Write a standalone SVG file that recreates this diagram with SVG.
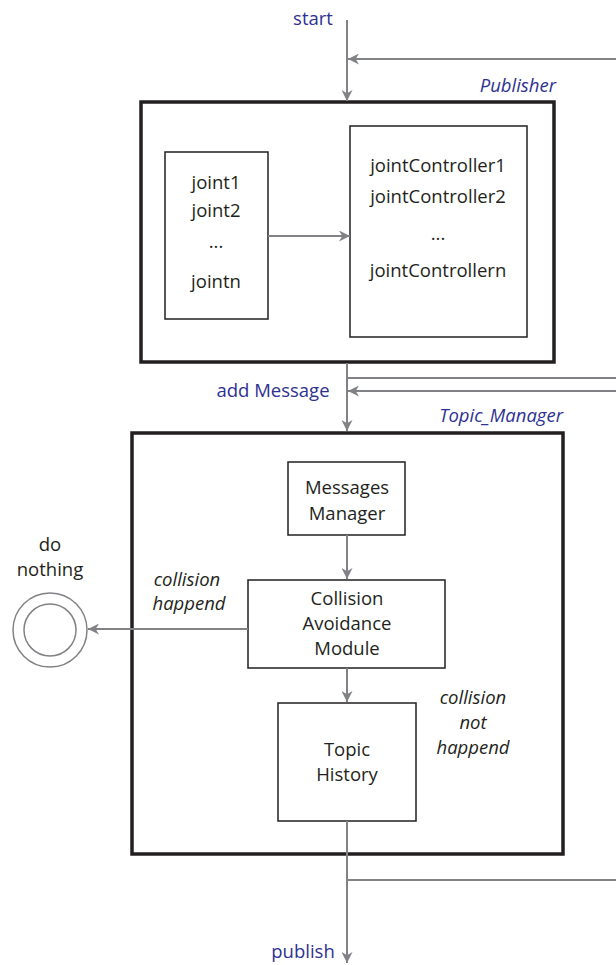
<svg xmlns="http://www.w3.org/2000/svg" width="616" height="965" viewBox="0 0 616 965">
<defs>
<style>
.t{font-family:"Open Sans","Noto Sans",sans-serif;font-size:18.5px;fill:#231f20;text-anchor:middle}
.i{font-style:italic}
.b{fill:#2e3192}
.box{fill:#fff;stroke:#231f20;stroke-width:1.5}
.big{fill:none;stroke:#231f20;stroke-width:3.5}
.c{fill:none;stroke:#808285;stroke-width:2}
</style>
<marker id="ah" viewBox="0 0 10 10" refX="10" refY="5" markerWidth="11" markerHeight="11" markerUnits="userSpaceOnUse" orient="auto">
<path d="M0,0 L10,5 L0,10 L3,5 Z" fill="#808285"/>
</marker>
</defs>
<g id="publisher">
<rect class="big" x="141" y="102" width="413" height="260"/>
<text class="t i b" x="556" y="92" style="text-anchor:end">Publisher</text>
</g>
<g id="joints">
<rect class="box" x="165" y="152" width="103" height="167"/>
<text class="t" x="216" y="189">joint1</text>
<text class="t" x="216" y="217">joint2</text>
<text class="t" x="216" y="248">...</text>
<text class="t" x="216" y="288">jointn</text>
</g>
<g id="controllers">
<rect class="box" x="350" y="126" width="177" height="211"/>
<text class="t" x="438" y="172">jointController1</text>
<text class="t" x="438" y="203">jointController2</text>
<text class="t" x="438" y="240">...</text>
<text class="t" x="438" y="277">jointControllern</text>
</g>
<g id="topic_manager">
<rect class="big" x="132" y="433" width="431" height="421"/>
<text class="t i b" x="563" y="422" style="text-anchor:end">Topic_Manager</text>
</g>
<g id="messages_manager">
<rect class="box" x="288" y="462" width="117" height="73"/>
<text class="t" x="347" y="494">Messages</text>
<text class="t" x="347" y="520">Manager</text>
</g>
<g id="collision_module">
<rect class="box" x="248" y="580" width="197" height="88"/>
<text class="t" x="347" y="605">Collision</text>
<text class="t" x="347" y="630">Avoidance</text>
<text class="t" x="347" y="655">Module</text>
</g>
<g id="topic_history">
<rect class="box" x="278" y="703" width="138" height="118"/>
<text class="t" x="347" y="756">Topic</text>
<text class="t" x="347" y="781">History</text>
</g>
<g id="do_nothing">
<circle cx="50" cy="630" r="37" fill="none" stroke="#808285" stroke-width="1.5"/>
<circle cx="50" cy="630" r="26" fill="none" stroke="#808285" stroke-width="1.5"/>
<text class="t" x="50" y="551">do</text>
<text class="t" x="50" y="576">nothing</text>
</g>
<g id="labels">
<text class="t b" x="313" y="25">start</text>
<text class="t b" x="273" y="397">add Message</text>
<text class="t b" x="303" y="958">publish</text>
<text class="t i" x="187" y="586">collision</text>
<text class="t i" x="189" y="610">happend</text>
<text class="t i" x="473" y="704">collision</text>
<text class="t i" x="473" y="729">not</text>
<text class="t i" x="473" y="754">happend</text>
</g>
<g id="connectors">
<line class="c" x1="347" y1="20" x2="347" y2="101" marker-end="url(#ah)"/>
<line class="c" x1="616" y1="59" x2="348" y2="59" marker-end="url(#ah)"/>
<line class="c" x1="268" y1="236" x2="350" y2="236" marker-end="url(#ah)"/>
<line class="c" x1="347" y1="363" x2="347" y2="431" marker-end="url(#ah)"/>
<polyline class="c" points="347,378 616,378"/>
<line class="c" x1="616" y1="391" x2="348" y2="391" marker-end="url(#ah)"/>
<line class="c" x1="347" y1="535" x2="347" y2="579" marker-end="url(#ah)"/>
<line class="c" x1="248" y1="629" x2="88" y2="629" marker-end="url(#ah)"/>
<line class="c" x1="347" y1="668" x2="347" y2="702" marker-end="url(#ah)"/>
<line class="c" x1="347" y1="821" x2="347" y2="963" marker-end="url(#ah)"/>
<polyline class="c" points="347,880 616,880"/>
</g>
</svg>
